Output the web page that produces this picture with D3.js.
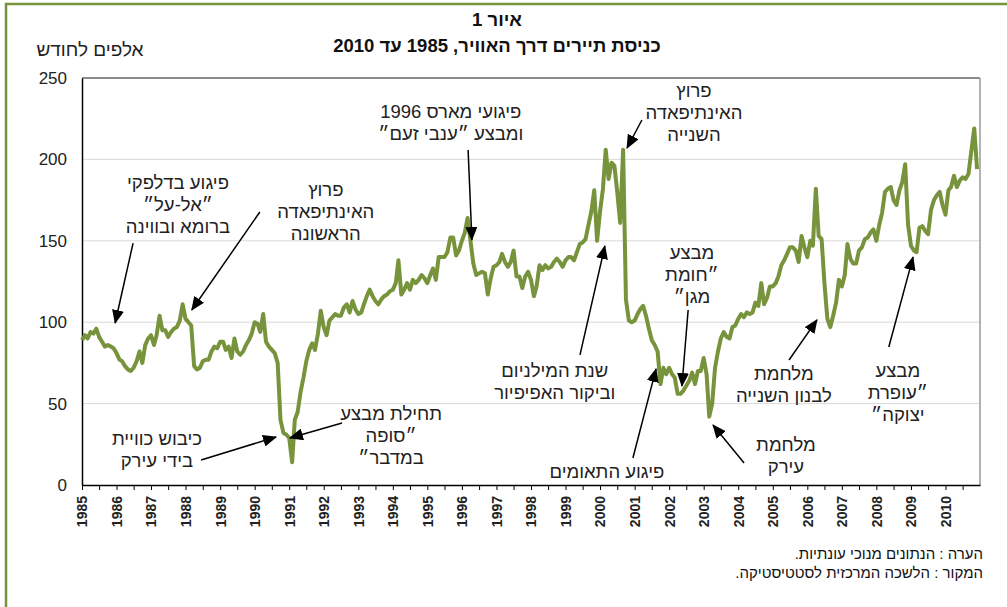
<!DOCTYPE html>
<html>
<head>
<meta charset="utf-8">
<script src="https://cdn.jsdelivr.net/npm/d3@7"></script>
<style>
  body { margin: 0; background: #fff; }
  text { font-family: "Liberation Sans", Arial, sans-serif; }
</style>
</head>
<body>
<div id="chart"></div>
<script>
// size of the page and the plot area
var svgWidth = 1007;
var svgHeight = 607;
var plot = { left: 82, right: 980, top: 78, bottom: 485 };

// monthly tourist entries by air, thousands (seasonally adjusted), Jan 1985 - Dec 2010
var firstMonth = new Date(1985, 0, 1);
var arrivals = [
  89, 92, 90, 94, 93, 96, 91, 88, 85, 86, 85, 84,        // 1985
  81, 77, 76, 73, 71, 70, 72, 76, 82, 75, 86, 90,        // 1986
  92, 86, 92, 104, 95, 95, 91, 94, 96, 97, 101, 111,     // 1987
  102, 100, 98, 73, 71, 72, 76, 77, 77, 82, 85, 84,      // 1988
  88, 88, 83, 85, 78, 90, 82, 80, 82, 86, 89, 93,        // 1989
  100, 99, 94, 105, 88, 85, 83, 81, 75, 40, 32, 31,      // 1990
  29, 14, 40, 45, 57, 66, 76, 83, 87, 83, 93, 107,       // 1991
  97, 92, 101, 103, 105, 104, 104, 109, 111, 106, 113, 108, // 1992
  105, 106, 111, 116, 120, 116, 113, 111, 114, 116, 117, 119, // 1993
  120, 124, 138, 117, 120, 124, 120, 126, 124, 126, 129, 127, // 1994
  124, 129, 133, 126, 140, 140, 140, 143, 152, 152, 141, 144, // 1995
  150, 155, 164, 150, 136, 129, 130, 131, 130, 117, 127, 134, // 1996
  135, 137, 142, 137, 134, 137, 144, 128, 128, 121, 128, 131, // 1997
  126, 116, 122, 135, 132, 135, 133, 134, 137, 139, 137, 134, // 1998
  138, 140, 140, 138, 143, 148, 149, 151, 160, 168, 181, 150, // 1999
  168, 182, 206, 188, 198, 196, 180, 161, 206, 114, 101, 100, // 2000
  101, 105, 108, 110, 104, 96, 89, 86, 82, 62, 72, 68,   // 2001
  72, 68, 66, 56, 56, 58, 61, 64, 69, 62, 70, 70,        // 2002
  78, 68, 42, 50, 72, 82, 90, 94, 91, 90, 97, 98,        // 2003
  102, 105, 103, 106, 105, 106, 112, 110, 124, 111, 115, 122, // 2004
  122, 124, 128, 135, 138, 142, 146, 146, 144, 137, 153, 146, // 2005
  140, 150, 147, 182, 153, 151, 124, 102, 97, 104, 112, 126,  // 2006
  122, 129, 148, 139, 136, 136, 144, 146, 151, 152, 155, 157, // 2007
  150, 160, 167, 180, 182, 183, 175, 172, 181, 186, 197, 160, // 2008
  147, 144, 143, 158, 159, 156, 154, 169, 175, 178, 180, 172, // 2009
  166, 181, 183, 190, 183, 187, 189, 188, 191, 205, 219, 194  // 2010
];

var yTicks = [0, 50, 100, 150, 200, 250];
var gridValues = [50, 100, 150, 200];

var titleLines = ["איור 1", "כניסת תיירים דרך האוויר, 1985 עד 2010"];
var yUnitLabel = "אלפים לחודש";
var footLines = ["הערה : הנתונים מנוכי עונתיות.", "המקור : הלשכה המרכזית לסטטיסטיקה."];

// event notes: text lines, where the first line sits [year, value], arrow [from, to] in [year, value]
var noteTexts = [
  ["פיגוע בדלפקי", "״אל-על״", "ברומא ובווינה"],
  ["פרוץ", "האינתיפאדה", "הראשונה"],
  ["כיבוש כוויית", "בידי עירק"],
  ["תחילת מבצע", "״סופה", "במדבר״"],
  ["פיגועי מארס 1996", "ומבצע ״ענבי זעם״"],
  ["פרוץ", "האינתיפאדה", "השנייה"],
  ["שנת המילניום", "וביקור האפיפיור"],
  ["פיגוע התאומים"],
  ["מבצע", "״חומת", "מגן״"],
  ["מלחמת", "עירק"],
  ["מלחמת", "לבנון השנייה"],
  ["מבצע", "״עופרת", "יצוקה״"]
];
var notePlaces = [
  [1987.78, 185.5], [1992.06, 181.2], [1987.17, 28.3], [1993.95, 44.2],
  [1995.68, 229.7], [2002.72, 242.6], [1998.69, 70.6], [2000.2, 8],
  [2002.66, 142.5], [2005.38, 24.6], [2005.32, 68.2], [2008.62, 70.6]
];
var noteArrows = [
  [[1986.48, 148.6], [1985.96, 99.5]],
  [[1990.15, 167.7], [1988.18, 107.5]],
  [[1988.45, 15.4], [1990.62, 29.5]],
  [[1992.53, 38.1], [1991.02, 28.9]],
  [[1996.18, 205.8], [1996.29, 150.5]],
  [[2001.21, 224.2], [2000.78, 207]],
  [[1999.42, 79.9], [2000.14, 146.8]],
  [[2000.95, 16.6], [2001.62, 71.3]],
  [[2002.55, 107.5], [2002.37, 60.8]],
  [[2004.17, 13.5], [2003.27, 36.9]],
  [[2005.47, 76.8], [2006.28, 101.4]],
  [[2008.36, 84.8], [2009.06, 140]]
];

var lineColor = "#77933c";

var svg = d3.select("#chart")
  .append("svg")
  .attr("width", svgWidth)
  .attr("height", svgHeight);

// outer green frame (only left and top edges are inside the page)
svg.append("rect")
  .attr("x", 6).attr("y", 4)
  .attr("width", 1200).attr("height", 800)
  .attr("fill", "none")
  .attr("stroke", lineColor)
  .attr("stroke-width", 2.5);

var startDate = new Date(1985, 0, 1);
var endDate = new Date(2011, 0, 1);

var x = d3.scaleTime()
  .domain([startDate, endDate])
  .range([plot.left, plot.right]);

var y = d3.scaleLinear()
  .domain([0, 250])
  .range([plot.bottom, plot.top]);

function yearToDate(yr) {
  var Y = Math.floor(yr);
  var a = new Date(Y, 0, 1), b = new Date(Y + 1, 0, 1);
  return new Date(+a + (yr - Y) * (b - a));
}

var data = arrivals.map(function(v, i) {
  return { date: d3.timeMonth.offset(firstMonth, i), value: v };
});

// gridlines
svg.append("g").selectAll("line")
  .data(gridValues)
  .enter().append("line")
  .attr("x1", plot.left).attr("x2", plot.right)
  .attr("y1", d => y(d)).attr("y2", d => y(d))
  .attr("stroke", "#d9d9d9")
  .attr("stroke-width", 1);

// top and right frame of the plot
svg.append("line")
  .attr("x1", plot.left).attr("x2", plot.right)
  .attr("y1", y(250)).attr("y2", y(250))
  .attr("stroke", "#666").attr("stroke-width", 1.5);
svg.append("line")
  .attr("x1", plot.right).attr("x2", plot.right)
  .attr("y1", y(250)).attr("y2", y(0))
  .attr("stroke", "#999").attr("stroke-width", 1.5);

// y axis
var yAxis = svg.append("g")
  .attr("transform", `translate(${plot.left},0)`)
  .call(d3.axisLeft(y).tickValues(yTicks).tickSize(0).tickPadding(15).tickSizeOuter(0));
yAxis.select(".domain").attr("stroke", "#000").attr("stroke-width", 1.5);
yAxis.selectAll("text")
  .style("font-size", "17px")
  .attr("fill", "#222");

// x axis: ticks every half year, labels on January
var halfYears = d3.timeMonth.every(6).range(startDate, endDate);
var xAxis = svg.append("g")
  .attr("transform", `translate(0,${plot.bottom})`)
  .call(d3.axisBottom(x)
    .tickValues(halfYears)
    .tickSize(5)
    .tickSizeOuter(0)
    .tickFormat(d => d.getMonth() === 0 ? d3.timeFormat("%Y")(d) : ""));
xAxis.select(".domain").attr("stroke", "#000").attr("stroke-width", 1.5);
xAxis.selectAll("line").attr("stroke", "#000");
xAxis.selectAll("text")
  .attr("transform", "rotate(-90)")
  .attr("x", -11)
  .attr("y", 0)
  .attr("dy", "0.35em")
  .style("text-anchor", "end")
  .style("font-size", "14px")
  .style("font-weight", "bold")
  .attr("fill", "#222");

// the series
var line = d3.line()
  .x(d => x(d.date))
  .y(d => y(d.value));

svg.append("path")
  .datum(data)
  .attr("fill", "none")
  .attr("stroke", lineColor)
  .attr("stroke-width", 4)
  .attr("stroke-linejoin", "round")
  .attr("d", line);

// arrowhead marker
svg.append("defs").append("marker")
  .attr("id", "head")
  .attr("markerUnits", "userSpaceOnUse")
  .attr("viewBox", "0 0 14 12")
  .attr("markerWidth", 14)
  .attr("markerHeight", 12)
  .attr("refX", 13)
  .attr("refY", 6)
  .attr("orient", "auto")
  .append("path")
  .attr("d", "M0,0L14,6L0,12Z")
  .attr("fill", "#000");

// notes
var lineGap = 22;
noteTexts.forEach(function(lines, i) {
  var px = x(yearToDate(notePlaces[i][0]));
  var py = y(notePlaces[i][1]);
  var t = svg.append("text")
    .attr("direction", "rtl")
    .attr("text-anchor", "middle")
    .style("font-size", "18.5px")
    .attr("fill", "#222");
  lines.forEach(function(s, j) {
    t.append("tspan")
      .attr("x", px)
      .attr("y", py + j * lineGap)
      .attr("dy", "0.35em")
      .text(s);
  });
  var a = noteArrows[i];
  svg.append("line")
    .attr("x1", x(yearToDate(a[0][0]))).attr("y1", y(a[0][1]))
    .attr("x2", x(yearToDate(a[1][0]))).attr("y2", y(a[1][1]))
    .attr("stroke", "#000")
    .attr("stroke-width", 1.5)
    .attr("marker-end", "url(#head)");
});

// titles
titleLines.forEach(function(s, i) {
  svg.append("text")
    .attr("direction", "rtl")
    .attr("x", 497)
    .attr("y", 20 + i * 26)
    .attr("dy", "0.35em")
    .attr("text-anchor", "middle")
    .style("font-size", "18.5px")
    .style("font-weight", "bold")
    .attr("fill", "#111")
    .text(s);
});

svg.append("text")
  .attr("direction", "rtl")
  .attr("x", 90)
  .attr("y", 49)
  .attr("dy", "0.35em")
  .attr("text-anchor", "middle")
  .style("font-size", "19px")
  .attr("fill", "#222")
  .text(yUnitLabel);

// note and source
footLines.forEach(function(s, i) {
  svg.append("text")
    .attr("direction", "rtl")
    .attr("x", 983)
    .attr("y", 554 + i * 19)
    .attr("dy", "0.35em")
    .attr("text-anchor", "start")
    .style("font-size", "15px")
    .attr("fill", "#111")
    .text(s);
});
</script>
</body>
</html>
